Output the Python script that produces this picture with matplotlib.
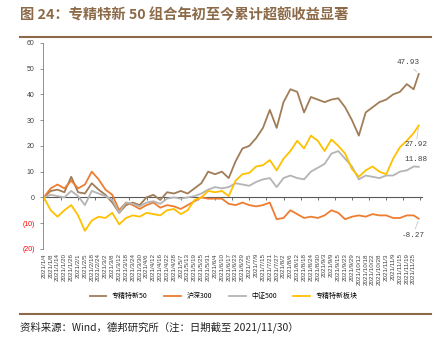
import matplotlib.pyplot as plt
from matplotlib.lines import Line2D
from matplotlib.ticker import FuncFormatter

plt.rcParams['font.family'] = ['Noto Sans CJK SC', 'DejaVu Sans']

# 交易日刻度（每 4 个交易日一个标签）
tick_labels = ['2021/1/4', '2021/1/8', '2021/1/14', '2021/1/20', '2021/1/26', '2021/2/1',
               '2021/2/5', '2021/2/18', '2021/2/24', '2021/3/2', '2021/3/8', '2021/3/12',
               '2021/3/18', '2021/3/24', '2021/3/30', '2021/4/6', '2021/4/12', '2021/4/16',
               '2021/4/22', '2021/4/28', '2021/5/7', '2021/5/13', '2021/5/19', '2021/5/25',
               '2021/5/31', '2021/6/4', '2021/6/10', '2021/6/17', '2021/6/23', '2021/6/29',
               '2021/7/5', '2021/7/9', '2021/7/15', '2021/7/21', '2021/7/27', '2021/8/2',
               '2021/8/6', '2021/8/12', '2021/8/18', '2021/8/24', '2021/8/30', '2021/9/3',
               '2021/9/9', '2021/9/15', '2021/9/23', '2021/9/29', '2021/10/12', '2021/10/18',
               '2021/10/22', '2021/10/28', '2021/11/3', '2021/11/9', '2021/11/15', '2021/11/19',
               '2021/11/25']
# 数据点所在的交易日序号（最后一点为 2021/11/30）
day_idx = list(range(0, 4 * len(tick_labels), 4)) + [219]

# 累计收益（%）
zjtx50 = [0, 2.5, 3, 2, 8, 2, 1.5, 5.5, 3, 1, -2, -6, -3, -2, -3, 0, 1, -1, 2, 1.5,
          2.5, 1.5, 3.5, 5.5, 10, 9, 10, 7.5, 14, 19, 20, 23, 27, 34, 27, 37, 42, 41, 33, 39,
          38, 37, 38, 38.5, 35, 30, 24, 33, 35, 37, 38, 40, 41, 44, 42, 47.93]
hs300 = [0, 3.5, 5, 3.5, 6.5, 3.5, 5, 10, 7, 3, 1, -5, -2, -3, -4.5, -3, -2, -4, -3, -3.5,
         -4.5, -3, -1.5, 0, -0.5, -0.5, -0.5, -2.5, -3, -2, -3, -3.5, -3, -2, -8.5, -8, -5,
         -6.5, -8, -7.5, -8, -7, -5, -6, -8.5, -7.5, -7, -7.5, -6.5, -7, -7, -8, -8, -7, -7,
         -8.27]
zz500 = [0, 1, 0.5, 0, 2.5, 0.5, -3, 2.5, 1.5, 0.5, -1, -6, -2, -2.5, -3.5, -2, -1.5, -2.5,
         -0.5, 0, -0.5, 0, 0.5, 1.5, 3, 4, 3.5, 4, 5.5, 5, 4.5, 6, 7, 7.5, 4, 7.5, 8.5, 7.5,
         7, 10, 11.5, 13, 17, 18, 15, 12, 7, 8.5, 8, 7.5, 8.5, 8.5, 10, 10.5, 12, 11.88]
zjtx_bk = [0, -5, -7.5, -5, -3, -7, -13, -9, -7.5, -8, -6, -10.5, -8, -7, -7.5, -6, -6.5, -7,
           -5, -4.5, -6.5, -5, -1, 0, 2.5, 2, 2.5, 0.5, 6.5, 9, 9.5, 12, 12.5, 14.5, 10.5, 15,
           18, 22, 19, 24, 22, 18, 22.5, 20, 17, 11, 8, 10.5, 12, 10, 9, 15, 19.5, 22, 25,
           27.92]

names = ['专精特新50', '沪深300', '中证500', '专精特新板块']
colors = ['#A07D58', '#ED7D31', '#B4B4B4', '#FFC000']
series = [zjtx50, hs300, zz500, zjtx_bk]
label_offsets = [(-8, 8), (-4, -12), (-2, 5), (-2, -14)]

brown = '#8C6A48'

fig = plt.figure(figsize=(4.43, 3.52), dpi=100)
ax = fig.add_axes([0.097, 0.293, 0.856, 0.585])

for vals, name, c in zip(series, names, colors):
    ax.plot(day_idx, vals, color=c, lw=1.3, label=name)

# 末端数据标签
for vals, c, off in zip(series, colors, label_offsets):
    ax.annotate(f'{vals[-1]:.2f}', xy=(day_idx[-1], vals[-1]), xytext=off,
                textcoords='offset points', ha='center', va='center',
                fontsize=5.5, color='#404040', family='Liberation Mono',
                arrowprops=dict(arrowstyle='-', color='#BFBFBF', lw=0.5,
                                shrinkA=0, shrinkB=2))

ax.set_xlim(-0.5, 221)
ax.set_ylim(-20, 60)
ax.set_yticks(range(-20, 61, 10))
ax.yaxis.set_major_formatter(FuncFormatter(
    lambda v, p: f'({abs(int(v))})' if v < 0 else f'{int(v)}'))
for t in ax.get_yticklabels():
    t.set_color('#FF0000' if t.get_text().startswith('(') else '#404040')
ax.tick_params(axis='y', labelsize=5, length=2, width=0.6, color='#808080', pad=4)
for t in ax.get_yticklabels():
    t.set_family('Liberation Sans')

ax.set_xticks(day_idx[:-1])
ax.set_xticklabels(tick_labels, rotation=90, fontsize=4.5, color='#404040',
                   family='Liberation Sans')
ax.tick_params(axis='x', length=0, pad=3)

for s in ['top', 'right', 'bottom']:
    ax.spines[s].set_visible(False)
ax.spines['left'].set_color('#808080')
ax.spines['left'].set_linewidth(0.6)

# 零轴
zero = ax.secondary_xaxis(0.25)
zero.set_xticks(range(0, 221, 10))
zero.tick_params(length=2, width=0.6, color='#595959', labelbottom=False)
zero.spines['bottom'].set_color('#595959')
zero.spines['bottom'].set_linewidth(0.8)

fig.legend(loc='center', bbox_to_anchor=(0.505, 0.159), ncol=4, frameon=False,
           fontsize=5, handlelength=2.4, columnspacing=2.4, handletextpad=0.8)

fig.text(0.045, 0.958, '图 24：专精特新 50 组合年初至今累计超额收益显著', fontsize=10.3,
         fontweight='bold', color=brown, va='center')
fig.add_artist(Line2D([0.045, 0.972], [0.895, 0.895], color=brown, lw=1.5))
fig.add_artist(Line2D([0.045, 0.972], [0.108, 0.108], color=brown, lw=1.5))
fig.text(0.045, 0.071, '资料来源：Wind，德邦研究所（注：日期截至 2021/11/30）',
         fontsize=7.5, color='#222222', va='center')

fig.savefig('out.png', dpi=100)
